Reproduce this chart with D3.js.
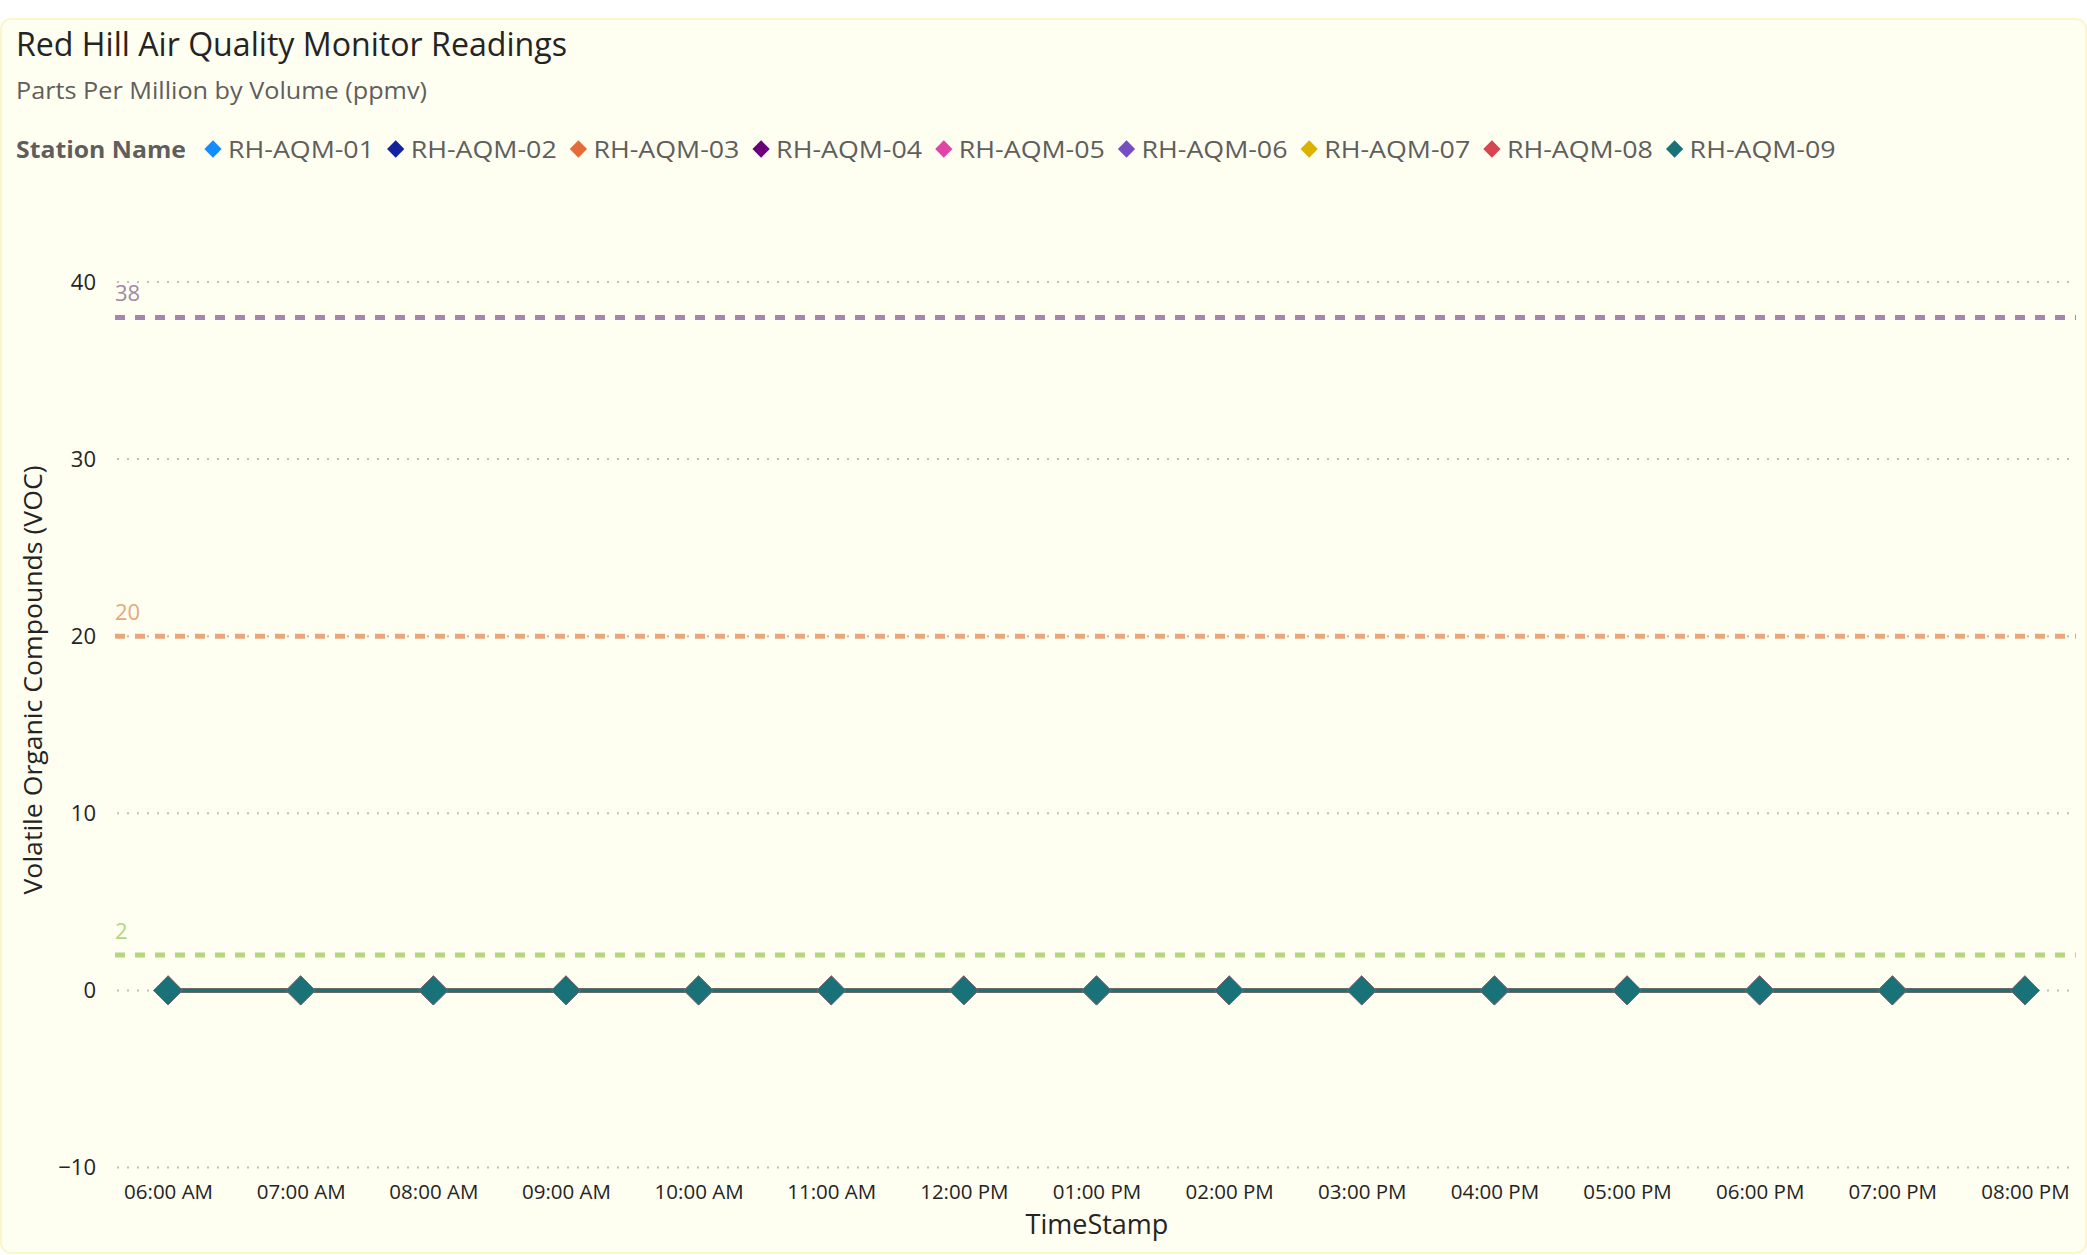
<!DOCTYPE html>
<html>
<head>
<meta charset="utf-8">
<script src="https://cdn.jsdelivr.net/npm/d3@7"></script>
<style>
  html, body { margin: 0; padding: 0; background: #ffffff; }
  svg { display: block; }
  text { font-family: "Open Sans", "Noto Sans", sans-serif; }
</style>
</head>
<body>
<svg id="chart" width="2087" height="1255"></svg>
<script>
// ---------- DATA ----------
const timeLabels = ["06:00 AM","07:00 AM","08:00 AM","09:00 AM","10:00 AM","11:00 AM","12:00 PM",
                    "01:00 PM","02:00 PM","03:00 PM","04:00 PM","05:00 PM","06:00 PM","07:00 PM","08:00 PM"];
const stations = ["RH-AQM-01","RH-AQM-02","RH-AQM-03","RH-AQM-04","RH-AQM-05","RH-AQM-06","RH-AQM-07","RH-AQM-08","RH-AQM-09"];
const stationColors = ["#118DFF","#12239E","#E66C37","#6B007B","#E044A7","#744EC2","#D9B300","#D64550","#197278"];
// VOC readings (ppmv) per station, one value per hour — all read as 0
const voc01 = [0,0,0,0,0,0,0,0,0,0,0,0,0,0,0];
const voc02 = [0,0,0,0,0,0,0,0,0,0,0,0,0,0,0];
const voc03 = [0,0,0,0,0,0,0,0,0,0,0,0,0,0,0];
const voc04 = [0,0,0,0,0,0,0,0,0,0,0,0,0,0,0];
const voc05 = [0,0,0,0,0,0,0,0,0,0,0,0,0,0,0];
const voc06 = [0,0,0,0,0,0,0,0,0,0,0,0,0,0,0];
const voc07 = [0,0,0,0,0,0,0,0,0,0,0,0,0,0,0];
const voc08 = [0,0,0,0,0,0,0,0,0,0,0,0,0,0,0];
const voc09 = [0,0,0,0,0,0,0,0,0,0,0,0,0,0,0];
const seriesValues = [voc01, voc02, voc03, voc04, voc05, voc06, voc07, voc08, voc09];
// Reference (threshold) lines
const refValues = [38, 20, 2];
const refColors = ["#A386A9", "#E9A679", "#B5D67E"];
const yTicks = [-10, 0, 10, 20, 30, 40];

// ---------- LAYOUT ----------
const svg = d3.select("#chart");
const W = 2087, H = 1255;
const plot = { left: 117, right: 2076, top: 282, bottom: 1167.5 };

// card
svg.append("rect").attr("x", 1).attr("y", 19).attr("width", W - 2).attr("height", H - 21)
  .attr("rx", 10).attr("ry", 10)
  .attr("fill", "#FEFEF1").attr("stroke", "#FBF7C9").attr("stroke-width", 2);

// title / subtitle
svg.append("text").attr("x", 16).attr("y", 56)
  .attr("font-family", "Roboto, 'Open Sans', sans-serif")
  .attr("font-size", 33).attr("font-weight", 500).attr("fill", "#252423")
  .attr("textLength", 551).attr("lengthAdjust", "spacingAndGlyphs")
  .text("Red Hill Air Quality Monitor Readings");
svg.append("text").attr("x", 16).attr("y", 99)
  .attr("font-size", 23).attr("fill", "#605E5C")
  .attr("textLength", 411).attr("lengthAdjust", "spacingAndGlyphs")
  .text("Parts Per Million by Volume (ppmv)");

// legend
const legendY = 149;
svg.append("text").attr("x", 16).attr("y", legendY + 9)
  .attr("font-size", 23).attr("font-weight", 700).attr("fill", "#605E5C")
  .attr("textLength", 170).attr("lengthAdjust", "spacingAndGlyphs")
  .text("Station Name");
const legend = svg.append("g");
stations.forEach((s, i) => {
  const cx = 213 + i * 182.7;
  const g = legend.append("g").attr("transform", `translate(${cx},${legendY})`);
  g.append("path").attr("d", d3.symbol(d3.symbolDiamond2, 190)())
    .attr("fill", stationColors[i]);
  g.append("text").attr("x", 15).attr("y", 9)
    .attr("font-size", 24).attr("fill", "#605E5C")
    .attr("textLength", 146).attr("lengthAdjust", "spacingAndGlyphs")
    .text(s);
});

// scales
const x = d3.scalePoint().domain(timeLabels).range([plot.left, plot.right]).padding(0.385);
const y = d3.scaleLinear().domain([-10, 40]).range([plot.bottom, plot.top]);

// gridlines
svg.append("g").selectAll("line").data(yTicks).join("line")
  .attr("x1", plot.left).attr("x2", plot.right)
  .attr("y1", d => y(d)).attr("y2", d => y(d))
  .attr("stroke", "#BDBDBD").attr("stroke-width", 2)
  .attr("stroke-dasharray", "2,8");

// y axis
const yAxis = svg.append("g").attr("transform", `translate(${plot.left - 21},0)`)
  .call(d3.axisLeft(y).tickValues(yTicks).tickSize(0).tickPadding(0).tickFormat(d3.format("d")));
yAxis.select(".domain").remove();
yAxis.selectAll("text").attr("font-size", 22).attr("fill", "#252423")
  .attr("font-family", "'Open Sans', sans-serif").attr("dy", "0.32em");

// x axis
const xAxis = svg.append("g").attr("transform", `translate(0,${plot.bottom + 13})`)
  .call(d3.axisBottom(x).tickSize(0).tickPadding(0));
xAxis.select(".domain").remove();
xAxis.selectAll("text").attr("font-size", 20.5).attr("fill", "#252423")
  .attr("font-family", "'Open Sans', sans-serif").attr("dy", "0.88em");

// axis titles
svg.append("text").attr("x", 1097).attr("y", 1234).attr("text-anchor", "middle")
  .attr("font-size", 27).attr("font-weight", 500).attr("fill", "#252423").text("TimeStamp");
svg.append("text").attr("transform", `translate(42,${680}) rotate(-90)`)
  .attr("text-anchor", "middle").attr("font-size", 26).attr("fill", "#252423")
  .attr("textLength", 429).attr("lengthAdjust", "spacingAndGlyphs")
  .text("Volatile Organic Compounds (VOC)");

// reference lines
refValues.forEach((v, i) => {
  svg.append("line").attr("x1", 115).attr("x2", plot.right)
    .attr("y1", y(v)).attr("y2", y(v))
    .attr("stroke", refColors[i]).attr("stroke-width", 5)
    .attr("stroke-dasharray", "10,10");
  svg.append("text").attr("x", 115).attr("y", y(v) - 16)
    .attr("font-size", 22).attr("fill", refColors[i]).text(v);
});

// series
const line = d3.line().x((d, j) => x(timeLabels[j])).y(d => y(d));
seriesValues.forEach((vals, i) => {
  const g = svg.append("g");
  g.append("path").datum(vals).attr("d", line)
    .attr("fill", "none").attr("stroke", stationColors[i]).attr("stroke-width", 4);
  g.selectAll("path.m").data(vals).join("path").attr("class", "m")
    .attr("transform", (d, j) => `translate(${x(timeLabels[j])},${y(d)})`)
    .attr("d", d3.symbol(d3.symbolDiamond2, 540)())
    .attr("fill", stationColors[i])
    .attr("stroke", i === 8 ? "#7d6a72" : "none").attr("stroke-width", 0.8);
});
</script>
</body>
</html>
